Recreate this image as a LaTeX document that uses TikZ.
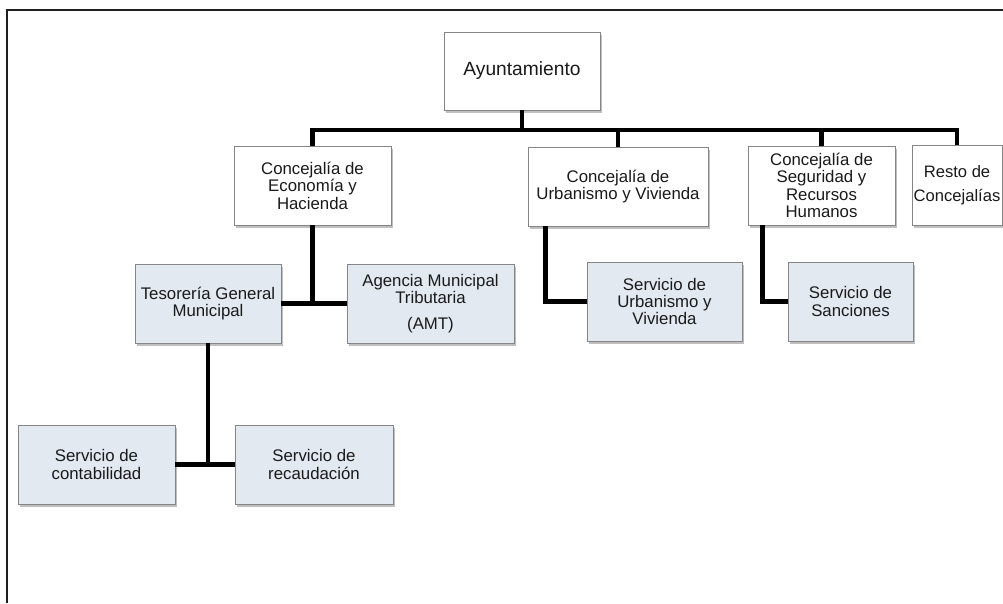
\documentclass[tikz,border=0pt]{standalone}
\usepackage{fontspec}
\setmainfont{Liberation Sans}
\usetikzlibrary{shadows}
\definecolor{boxblue}{HTML}{E3E9F1}
\definecolor{boxline}{HTML}{858585}
\definecolor{txt}{HTML}{1A1A1A}
\tikzset{
  orgbox/.style={draw=boxline, line width=0.9pt, fill=white, text=txt, align=center,
    inner sep=0pt,
    drop shadow={shadow xshift=1.5pt, shadow yshift=-2.5pt, fill=black, opacity=0.25},
    font=\fontsize{16.8}{17.4}\selectfont},
  subbox/.style={orgbox, fill=boxblue},
  conn/.style={draw=black, line width=4.6pt, line join=miter},
  frame/.style={draw=black!88, line width=1.7pt}
}
\begin{document}
\begin{tikzpicture}[x=1pt,y=-1pt]
\useasboundingbox (0,0) rectangle (1003,603);
\draw[frame] (1003,9.7) -- (6.7,9.7) -- (6.7,603);

\node[orgbox, minimum width=156pt, minimum height=78pt, font=\fontsize{19.2}{20}\selectfont] (ayto) at (522,71) {Ayuntamiento};
\node[orgbox, minimum width=157pt, minimum height=79pt] (eco) at (312.5,185.5) {Concejalía de\\Economía y\\Hacienda};
\node[orgbox, minimum width=180pt, minimum height=79pt] (urb) at (618,186.5) {Concejalía de\\Urbanismo y Vivienda};
\node[orgbox, minimum width=147pt, minimum height=79pt] (seg) at (821.5,185.5) {Concejalía de\\Seguridad y\\Recursos\\Humanos};
\node[orgbox, minimum width=90pt, minimum height=80pt, font=\fontsize{16.6}{23.5}\selectfont] (resto) at (957,185) {Resto de\\Concejalías};

\node[subbox, minimum width=146pt, minimum height=79pt] (tes) at (208,303.5) {Tesorería General\\Municipal};
\node[subbox, minimum width=167pt, minimum height=79pt, font=\fontsize{16.8}{16.4}\selectfont] (amt) at (430.5,303.5) {Agencia Municipal\\Tributaria\\[9.5pt](AMT)};
\node[subbox, minimum width=155pt, minimum height=79pt] (surb) at (664.5,301.5) {Servicio de\\Urbanismo y\\Vivienda};
\node[subbox, minimum width=125pt, minimum height=79pt] (sanc) at (850.5,301.5) {Servicio de\\Sanciones};
\node[subbox, minimum width=157pt, minimum height=79pt] (cont) at (96.5,464.5) {Servicio de\\contabilidad};
\node[subbox, minimum width=158pt, minimum height=79pt] (rec) at (314,464.5) {Servicio de\\recaudación};

\coordinate (bus) at (522,130);
\draw[conn] (ayto.south) -- (ayto.south |- bus);
\draw[conn] (eco.north) -- (eco.north |- bus) -- (resto.north |- bus) -- (resto.north);
\draw[conn] (urb.north) -- (urb.north |- bus);
\draw[conn] (seg.north) -- (seg.north |- bus);

\draw[conn] (eco.south) -- (eco.south |- tes.east);
\draw[conn] (tes.east) -- (amt.west);
\draw[conn] ([xshift=18pt]urb.south west) |- (surb.west);
\draw[conn] ([xshift=15pt]seg.south west) |- (sanc.west);
\draw[conn] (tes.south) -- (tes.south |- cont.east);
\draw[conn] (cont.east) -- (rec.west);
\end{tikzpicture}
\end{document}
